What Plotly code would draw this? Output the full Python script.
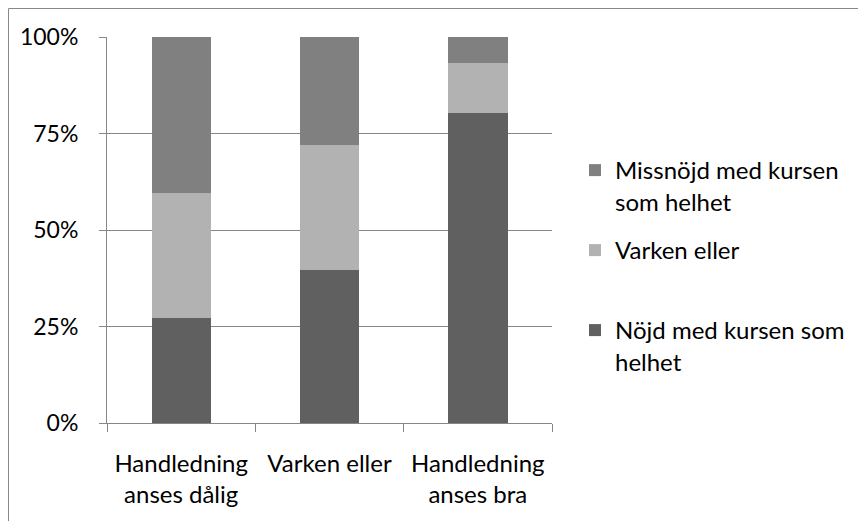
import plotly.graph_objects as go

categories = ["Handledning<br>anses dålig", "Varken eller", "Handledning<br>anses bra"]
nojd = [27.3, 39.7, 80.2]
varken = [32.4, 32.3, 13.0]
missnojd = [40.3, 28.0, 6.8]
y_ticks = [0, 25, 50, 75, 100]
y_tick_labels = ["0%", "25%", "50%", "75%", "100%"]

FONT = "Lato"
FS = 24
fig = go.Figure()
fig.add_trace(go.Bar(x=categories, y=nojd, name="Nöjd med kursen som<br>helhet",
                     marker=dict(color="#606060", line=dict(width=0)), legend="legend3"))
fig.add_trace(go.Bar(x=categories, y=varken, name="Varken eller",
                     marker=dict(color="#b2b2b2", line=dict(width=0)), legend="legend2"))
fig.add_trace(go.Bar(x=categories, y=missnojd, name="Missnöjd med kursen<br>som helhet",
                     marker=dict(color="#808080", line=dict(width=0)), legend="legend"))

FW, FH = 858, 513
W0, W1, H0, H1 = 99, 544, 29, 415
def px_x(px):
    return (px - W0) / (W1 - W0)
def px_y(py):
    return (H1 - py) / (H1 - H0)

leg_common = dict(font=dict(family=FONT, size=FS, color="#000000"), bgcolor="rgba(0,0,0,0)",
                  xanchor="left", yanchor="top", itemsizing="constant", valign="top")
fig.update_layout(
    width=FW, height=FH,
    margin=dict(l=W0, r=FW - W1, t=H0, b=FH - H1),
    paper_bgcolor="white", plot_bgcolor="white",
    barmode="stack", bargap=0.6, showlegend=True,
    font=dict(family=FONT, size=FS, color="#000000"),
    legend=dict(x=px_x(567), y=px_y(140), **leg_common),
    legend2=dict(x=px_x(567), y=px_y(220), **leg_common),
    legend3=dict(x=px_x(567), y=px_y(300), **leg_common),
    xaxis=dict(showline=True, linecolor="#868686", linewidth=1, ticks="outside",
               tickson="boundaries", ticklen=8, tickcolor="#868686", showgrid=False,
               tickfont=dict(family=FONT, size=FS, color="#000000"), ticklabelstandoff=19),
    yaxis=dict(range=[0, 100], tickvals=y_ticks, ticktext=y_tick_labels,
               showline=True, linecolor="#868686", linewidth=1, ticks="outside",
               ticklen=7, tickcolor="#868686", showgrid=True, gridcolor="#868686",
               gridwidth=1, zeroline=False,
               tickfont=dict(family=FONT, size=23, color="#000000"), ticklabelstandoff=16),
    shapes=[dict(type="rect", xref="paper", yref="paper",
                 x0=px_x(0.5), x1=px_x(FW + 20), y0=px_y(FH + 20), y1=px_y(0.5),
                 line=dict(color="#888888", width=1), fillcolor="rgba(0,0,0,0)", layer="below")],
)
fig.write_html("out.html")
